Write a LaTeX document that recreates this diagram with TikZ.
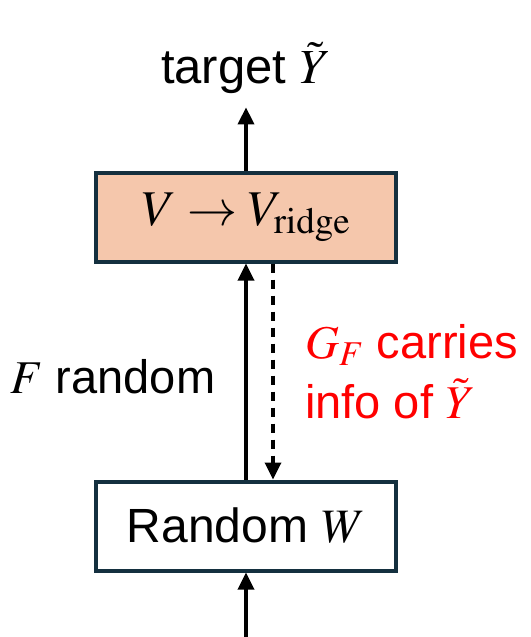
\documentclass[tikz,border=0pt]{standalone}
\usepackage{mathptmx}
\usepackage[no-math]{fontspec}
\setmainfont{Liberation Sans}
\usetikzlibrary{arrows.meta}
\definecolor{boxline}{HTML}{14303F}
\definecolor{boxfill}{HTML}{F5C7AC}
\definecolor{redtxt}{HTML}{FF0000}
\begin{document}
\begin{tikzpicture}[x=1pt,y=-1pt,
  lbl/.style={font=\fontsize{47}{54}\selectfont, inner sep=0pt, anchor=base},
  box/.style={draw=boxline, line width=4pt, minimum width=300pt, minimum height=89pt, inner sep=0pt, font=\fontsize{50}{56}\selectfont},
  arr/.style={line width=3.4pt, -{Triangle[length=17pt,width=16pt]}},
  darr/.style={arr, dash pattern=on 9pt off 7pt}]
\useasboundingbox (0,0) rectangle (530,637);
\node[lbl, font=\fontsize{49}{56}\selectfont] (target) at (246,83) {target $\tilde{Y}$};
\node[box, fill=boxfill] (vbox) at (246,217) {$V \rightarrow V_{\mathrm{ridge}}$};
\node[box, fill=white, font=\fontsize{48}{56}\selectfont] (wbox) at (246,526) {\raisebox{1pt}{Random $W$}};
\node[lbl, anchor=base west] (frand) at (10,393) {$F$ random};
\node[lbl, anchor=base west, text=redtxt] (g1) at (305,358) {$G_F$ carries};
\node[lbl, anchor=base west, text=redtxt] (g2) at (305,418) {info of $\tilde{Y}$};
\coordinate (inp) at (246,640);
\draw[arr] (vbox.north) -- ([yshift=-14pt]target.south);
\draw[arr] (wbox.north) -- (vbox.south);
\draw[darr] ([xshift=27pt]vbox.south) -- ([xshift=27pt]wbox.north);
\draw[arr] (inp) -- (wbox.south);
\end{tikzpicture}
\end{document}
